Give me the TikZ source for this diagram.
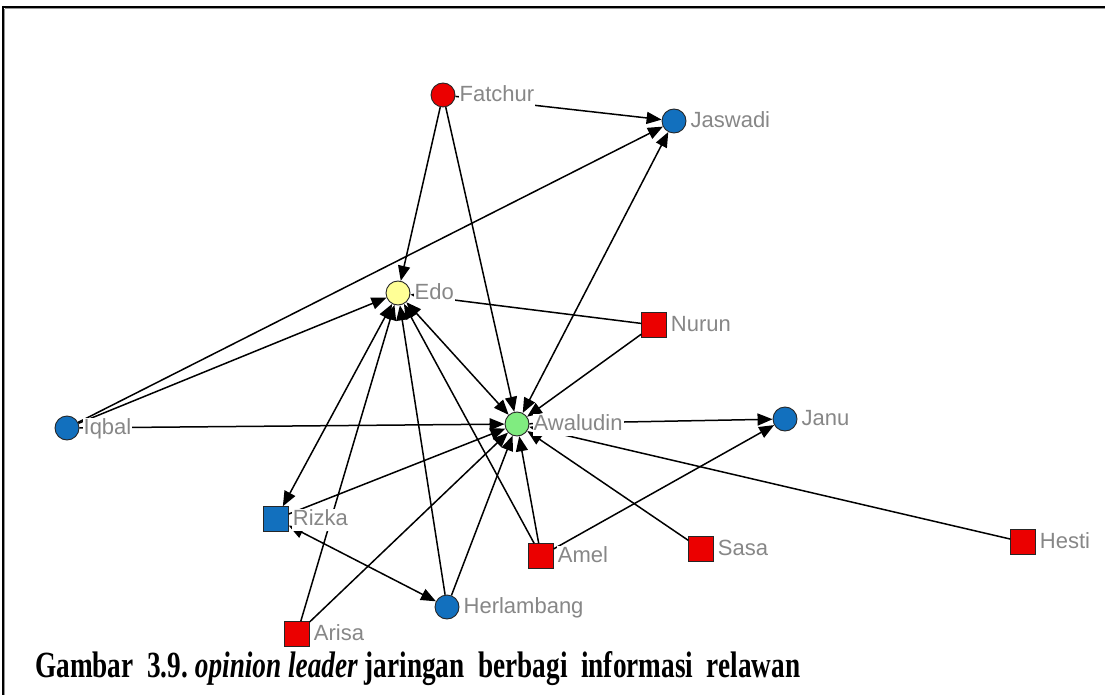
\documentclass[tikz,border=0pt]{standalone}
\usepackage{graphicx}
\usepackage{fontspec}
\setmainfont{Liberation Serif}
\newfontfamily\labelfont{Liberation Sans}
\usetikzlibrary{arrows.meta}

\definecolor{nodered}{RGB}{235,0,0}
\definecolor{nodeblue}{RGB}{18,112,190}
\definecolor{nodeyellow}{RGB}{255,255,150}
\definecolor{nodegreen}{RGB}{128,236,128}
\definecolor{labelgray}{RGB}{135,135,135}
\definecolor{framegray}{RGB}{150,150,150}

\begin{document}
\begin{tikzpicture}[x=1pt,y=-1pt,
  actor/.style={draw=black!85, line width=0.9pt, inner sep=0pt},
  roundactor/.style={actor, circle, minimum size=24pt},
  squareactor/.style={actor, rectangle, minimum size=24.5pt},
  tie/.style={line width=1.5pt, -{Triangle[length=15pt,width=12pt]}},
  mutual/.style={line width=1.5pt, {Triangle[length=15pt,width=12pt]}-{Triangle[length=15pt,width=12pt]}},
  actorname/.style={font=\labelfont\fontsize{22}{22}\selectfont, text=labelgray,
    fill=white, inner sep=1pt, anchor=west, text height=15.5pt, text depth=4pt,
    xshift=3pt, yshift=-1pt}
]
\useasboundingbox (0,0) rectangle (1105,695);

% frame (top and left edges)
\draw[line width=1.6pt] (2.5,6.8) -- (1105,6.8);
\draw[framegray, line width=1pt] (4.5,8.8) -- (1105,8.8);
\draw[line width=1.4pt] (3,6) -- (3,695);
\draw[framegray, line width=1pt] (4.6,8.8) -- (4.6,695);

% actors
\node[roundactor, fill=nodered]    (fatchur)    at (443,95)  {};
\node[roundactor, fill=nodeblue]   (jaswadi)    at (674,121) {};
\node[roundactor, fill=nodeyellow] (edo)        at (398,293) {};
\node[squareactor, fill=nodered]   (nurun)      at (654,325) {};
\node[roundactor, fill=nodeblue]   (iqbal)      at (67,428)  {};
\node[roundactor, fill=nodegreen]  (awaludin)   at (517,424) {};
\node[roundactor, fill=nodeblue]   (janu)       at (785,419) {};
\node[squareactor, fill=nodeblue]  (rizka)      at (276,519) {};
\node[squareactor, fill=nodered]   (amel)       at (541,556) {};
\node[squareactor, fill=nodered]   (sasa)       at (701,549) {};
\node[squareactor, fill=nodered]   (hesti)      at (1023,542) {};
\node[roundactor, fill=nodeblue]   (herlambang) at (447,607) {};
\node[squareactor, fill=nodered]   (arisa)      at (297,634) {};

% ties
\draw[tie] (fatchur) -- (jaswadi);
\draw[tie] (fatchur) -- (edo);
\draw[tie] (fatchur) -- (awaludin);
\draw[tie] (iqbal) -- (jaswadi);
\draw[tie] (iqbal) -- (edo);
\draw[tie] (iqbal) -- (awaludin);
\draw[mutual] (awaludin) -- (jaswadi);
\draw[tie] (nurun) -- (edo);
\draw[tie] (nurun) -- (awaludin);
\draw[tie] (awaludin) -- (janu);
\draw[tie] (amel) -- (janu);
\draw[tie] (amel) -- (awaludin);
\draw[tie] (amel) -- (edo);
\draw[tie] (sasa) -- (awaludin);
\draw[tie] (hesti) -- (awaludin);
\draw[tie] (rizka) -- (awaludin);
\draw[mutual] (edo) -- (rizka);
\draw[mutual] (rizka) -- (herlambang);
\draw[tie] (herlambang) -- (edo);
\draw[tie] (herlambang) -- (awaludin);
\draw[tie] (arisa) -- (edo);
\draw[tie] (arisa) -- (awaludin);
\draw[mutual] (edo) -- (awaludin);

% actor names
\node[actorname] (fatchur-l)    at (fatchur.east)    {Fatchur};
\node[actorname] (jaswadi-l)    at (jaswadi.east)    {Jaswadi};
\node[actorname] (edo-l)        at (edo.east)        {Edo};
\node[actorname] (nurun-l)      at (nurun.east)      {Nurun};
\node[actorname] (iqbal-l)      at (iqbal.east)      {Iqbal};
\node[actorname] (awaludin-l)   at (awaludin.east)   {Awaludin};
\node[actorname] (janu-l)       at (janu.east)       {Janu};
\node[actorname] (rizka-l)      at (rizka.east)      {Rizka};
\node[actorname] (amel-l)       at (amel.east)       {Amel};
\node[actorname] (sasa-l)       at (sasa.east)       {Sasa};
\node[actorname] (hesti-l)      at (hesti.east)      {Hesti};
\node[actorname] (herlambang-l) at (herlambang.east) {Herlambang};
\node[actorname] (arisa-l)      at (arisa.east)      {Arisa};

% caption
\node[anchor=base west, inner sep=0pt] (caption) at (35,677)
  {\resizebox{765pt}{26pt}{\bfseries Gambar\ \ 3.9.\ \textit{opinion leader} jaringan\ \ berbagi\ \ informasi\ \ relawan}};
\end{tikzpicture}
\end{document}
